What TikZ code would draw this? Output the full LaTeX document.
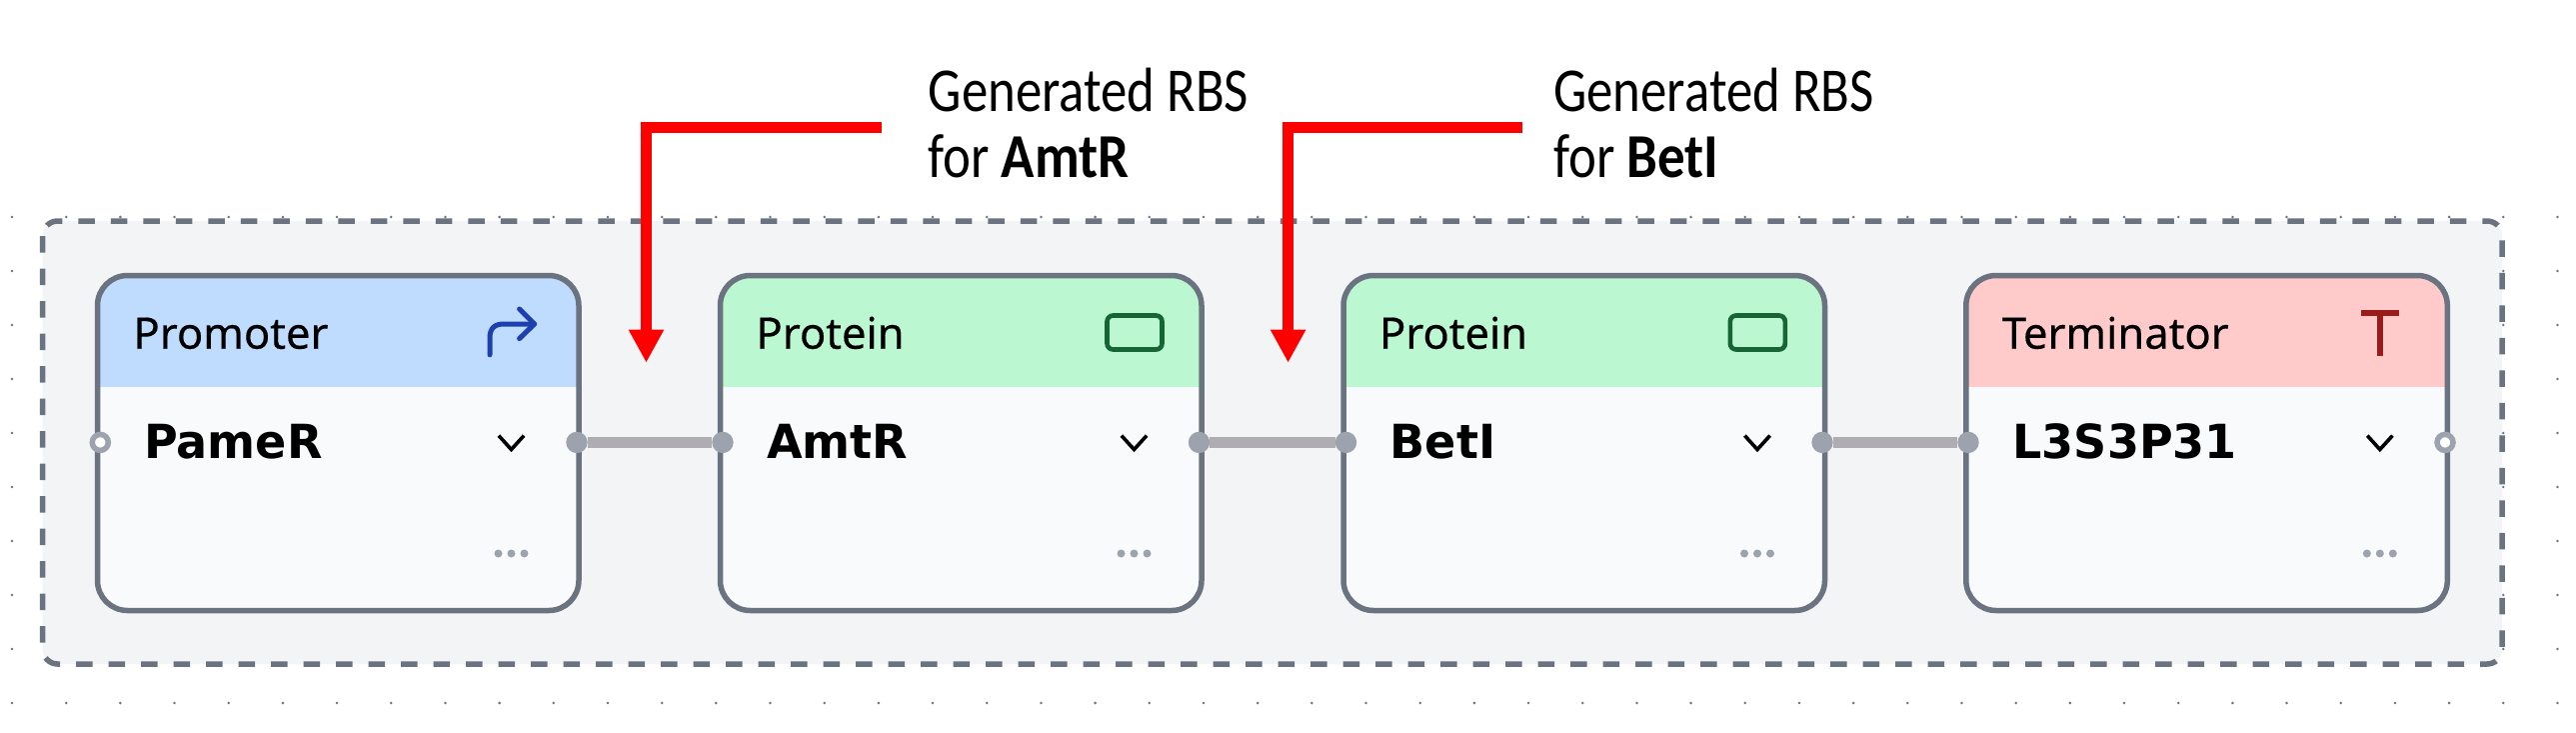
\documentclass[tikz,border=0pt]{standalone}
\usepackage{fontspec}
\usetikzlibrary{arrows.meta}
\newfontfamily\ftitle[FakeBold=0.35]{Noto Sans}
\newfontfamily\fval[FakeStretch=0.98]{DejaVu Sans}
\newfontfamily\fnote[FakeStretch=0.845,BoldFeatures={FakeStretch=0.88}]{Carlito}
\definecolor{panelfill}{HTML}{F3F4F6}
\definecolor{slate}{HTML}{6B7280}
\definecolor{cardfill}{HTML}{F9FAFB}
\definecolor{hblue}{HTML}{BFDBFE}
\definecolor{hgreen}{HTML}{BBF7D0}
\definecolor{hred}{HTML}{FECACA}
\definecolor{portgray}{HTML}{9CA3AF}
\definecolor{wiregray}{HTML}{AEAEB2}
\definecolor{iblue}{HTML}{1E40AF}
\definecolor{igreen}{HTML}{166534}
\definecolor{ired}{HTML}{991B1B}
\tikzset{
  x=1pt,y=-1pt,
  griddot/.style={fill=slate,draw=none},
  panelbox/.style={draw=slate,fill=panelfill,line width=5.5pt,rounded corners=15pt,dash pattern=on 16.5pt off 16pt},
  cardbox/.style={draw=slate,line width=5.5pt,rounded corners=30pt,fill=cardfill,minimum width=481.5pt,minimum height=335pt,inner sep=0pt,outer sep=0pt,anchor=north west},
  titletext/.style={anchor=base west,inner sep=0pt,font=\ftitle\fontsize{43.5}{43.5}\selectfont,text=black},
  valuetext/.style={anchor=base west,inner sep=0pt,font=\fval\bfseries\fontsize{47}{47}\selectfont,text=black},
  notetext/.style={anchor=base west,inner sep=0pt,font=\fnote\fontsize{62.5}{66}\selectfont,text=black},
  portfull/.style={circle,fill=portgray,draw=none,minimum size=21.4pt,inner sep=0pt,outer sep=0pt},
  porthollow/.style={circle,fill=white,draw=portgray,line width=5.5pt,minimum size=16pt,inner sep=0pt,outer sep=0pt},
  wire/.style={draw=wiregray,line width=10.5pt},
  redarrow/.style={draw=red,line width=10.5pt,line join=miter,-{Triangle[width=33pt,length=33pt]}},
  chev/.style={draw=black,line width=3.6pt,line join=miter},
  moredot/.style={fill=portgray,draw=none},
}
% id, left x, header colour, title, value
\newcommand{\genecard}[5]{%
  \node[cardbox,path picture={\fill[#3,sharp corners] (path picture bounding box.north west) rectangle ([yshift=-111.5pt]path picture bounding box.north east);}] (#1) at (#2,275.5) {};
  \node[titletext] (#1title) at (#2+35.8,348.7) {#4};
  \node[valuetext] (#1val) at (#2+46.5,458.6) {#5};
  \draw[chev] (#2+401.4,435.6) -- (#2+414,449.5) -- (#2+426.6,435.6);
  \fill[moredot] (#2+401,553.5) circle (4pt) (#2+414,553.5) circle (4pt) (#2+427,553.5) circle (4pt);
}
\begin{document}
\begin{tikzpicture}
\useasboundingbox (0,0) rectangle (2577,732);
\fill[white] (0,0) rectangle (2577,732);
% background grid of dots
\foreach \r in {0,...,9}{
  \foreach \c in {0,...,47}{
    \fill[griddot] (12+54.18*\c,217+54*\r) circle (1.4pt);
  }
}
% panel
\draw[panelbox] (42.7,221) rectangle (2503,664);
% cards
\genecard{cA}{97.5}{hblue}{Promoter}{PameR}
\genecard{cB}{720.5}{hgreen}{Protein}{AmtR}
\genecard{cC}{1344}{hgreen}{Protein}{BetI}
\genecard{cD}{1966.8}{hred}{Terminator}{L3S3P31}
% icons
\draw[iblue,line width=5pt,line cap=round,line join=round] (490,354.8) -- (490,338) .. controls (490,328) and (495,324) .. (504,324) -- (534.6,324);
\draw[iblue,line width=5pt,line cap=round,line join=round] (519.6,309) -- (534.6,324) -- (519.6,338.6);
\draw[igreen,line width=4.6pt,rounded corners=6pt] (1107.5,315.5) rectangle (1162.5,349.5);
\draw[igreen,line width=4.6pt,rounded corners=6pt] (1730.8,315.5) rectangle (1785.8,349.5);
\draw[ired,line width=6pt] (2362,313.2) -- (2400.4,313.2);
\draw[ired,line width=6pt] (2381.2,313.2) -- (2381.2,356);
% ports
\node[porthollow] (pAl) at (100.3,442.4) {};
\node[portfull] (pAr) at (577,442.4) {};
\node[portfull] (pBl) at (723,442.4) {};
\node[portfull] (pBr) at (1199.5,442.4) {};
\node[portfull] (pCl) at (1346.5,442.4) {};
\node[portfull] (pCr) at (1823,442.4) {};
\node[portfull] (pDl) at (1969,442.4) {};
\node[porthollow] (pDr) at (2446,442.4) {};
% wires
\draw[wire] (pAr) -- (pBl);
\draw[wire] (pBr) -- (pCl);
\draw[wire] (pCr) -- (pDl);
% annotations
\node[notetext] (noteA) at (928.5,111) {Generated RBS};
\node[notetext] (noteAb) at (928.5,177.7) {for \textbf{AmtR}};
\node[notetext] (noteB) at (1554,111) {Generated RBS};
\node[notetext] (noteBb) at (1554,177.7) {for \textbf{BetI}};
\coordinate (startA) at (881.7,127.5);
\coordinate (tipA) at (646.5,362.7);
\coordinate (startB) at (1523,127.5);
\coordinate (tipB) at (1288.6,362.7);
\draw[redarrow] (startA) -| (tipA);
\draw[redarrow] (startB) -| (tipB);
\end{tikzpicture}
\end{document}
